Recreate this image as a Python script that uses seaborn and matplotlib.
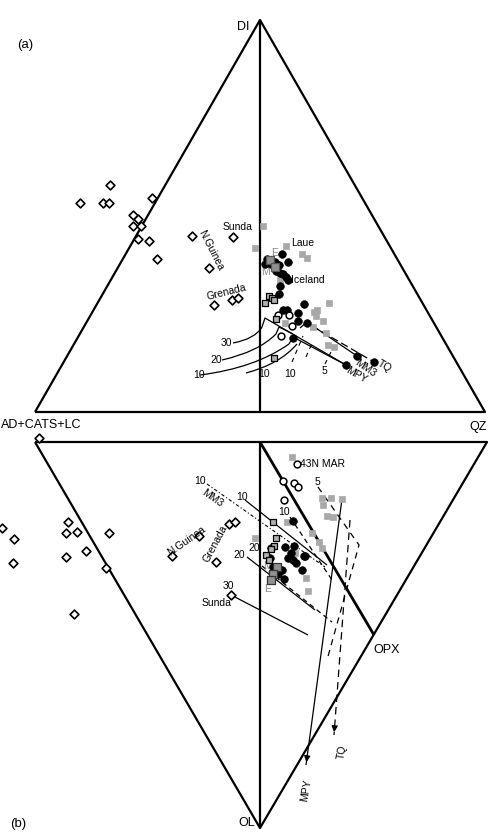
import numpy as np
import pandas as pd
import matplotlib
matplotlib.use("Agg")
import matplotlib.pyplot as plt
import seaborn as sns
from matplotlib.path import Path
from matplotlib.patches import PathPatch

sns.set_theme(style="white")
plt.rcParams['font.family'] = ['Liberation Sans', 'DejaVu Sans']

# ---------------- data (figure pixel coordinates of the projection) ----------------
# triangle frames
tri_top = [(35, 412), (260, 20), (485, 412), (35, 412)]
tri_top_mid = [(260, 20), (260, 412)]
tri_bot = [(35, 442), (487, 442), (260, 828), (35, 442)]
tri_bot_mid = [(260, 442), (260, 828)]
opx_line = [(260, 442), (374, 635)]

# --- top panel (a) ---
a_dia_x = [110, 80, 103, 109, 152, 133, 138, 133, 141, 138, 149, 157, 192, 209, 233, 214, 232, 238, 39]
a_dia_y = [185, 203, 203, 203, 198, 215, 219, 226, 226, 239, 241, 259, 236, 268, 237, 305, 300, 298, 438]

a_blk_x = [282, 288, 267, 265, 271, 275, 279, 276, 280, 283, 286, 288, 280, 279, 304, 283, 287, 298, 298, 307, 293, 357, 374, 346]
a_blk_y = [254, 262, 259, 264, 264, 262, 265, 271, 273, 274, 277, 280, 286, 294, 304, 310, 310, 313, 321, 323, 338, 356, 362, 365]

a_open_x = [278, 289, 292, 281]
a_open_y = [315, 315, 326, 336]

a_gry_x = [263, 255, 286, 302, 307, 329, 317, 314, 316, 323, 285, 313, 326, 328, 334, 280]
a_gry_y = [226, 248, 246, 254, 258, 303, 310, 312, 316, 321, 323, 327, 333, 345, 347, 280]

a_sq_x = [269, 272, 274, 265, 276, 274]
a_sq_y = [296, 298, 300, 303, 319, 358]
a_bigsq_x = [270, 275]
a_bigsq_y = [260, 267]

# --- bottom panel (b) ---
b_dia_x = [2, 14, 13, 68, 66, 77, 109, 86, 66, 106, 74, 199, 172, 229, 235, 216, 231]
b_dia_y = [528, 539, 563, 522, 533, 532, 533, 551, 557, 568, 614, 536, 556, 524, 522, 562, 595]

b_blk_x = [293, 285, 294, 304, 271, 270, 288, 296, 302, 282, 278, 284, 291, 293, 305, 273]
b_blk_y = [521, 547, 546, 556, 548, 558, 558, 563, 570, 570, 574, 579, 553, 560, 556, 567]

b_open_x = [297, 283, 294, 298, 284]
b_open_y = [464, 481, 483, 487, 500]

b_gry_x = [292, 322, 331, 323, 342, 327, 333, 287, 312, 319, 322, 255, 306, 308, 295]
b_gry_y = [457, 498, 498, 505, 499, 516, 517, 522, 533, 542, 548, 538, 578, 591, 553]

b_sq_x = [273, 276, 274, 271, 266, 269]
b_sq_y = [522, 538, 546, 549, 555, 560]
b_bigsq_x = [277, 273, 271]
b_bigsq_y = [567, 574, 580]

# --- lines of panel (a) ---
a_curve30 = [(233, 343), (255, 339), (262, 327)]
a_curve20 = [(222, 360), (258, 352), (276, 334)]
a_curve10 = [(200, 375), (255, 368), (289, 344)]
a_curve0 = [(246, 373), (280, 364), (297, 344)]
a_brk30 = [(262, 327), (265, 318), (346, 365)]
a_brk20 = [(276, 334), (279, 327), (293, 334)]
a_brk10 = [(289, 344), (293, 337), (346, 365)]
a_mm3 = [(300, 328), (307, 322), (357, 356)]
a_tq = [(312, 326), (374, 362)]
a_dash1 = [(292, 362), (303, 336)]
a_dash2 = [(306, 357), (313, 341)]
a_dash3 = [(325, 364), (331, 352)]

# --- lines of panel (b) ---
b_mm3 = [(207, 484), (325, 567)]
b_sol10 = [(245, 500), (327, 565)]
b_sol20 = [(247, 557), (315, 610)]
b_sol30 = [(233, 596), (308, 635)]
b_dash10 = [(290, 517), (332, 580)]
b_dash20 = [(262, 566), (332, 622)]
b_dash5 = [(318, 487), (359, 545), (327, 660)]
b_mpy = [(342, 499), (306, 765)]
b_tq = [(350, 520), (334, 735)]

# ---------------- figure ----------------
fig = plt.figure(figsize=(4.89, 8.34), dpi=100)
ax = fig.add_axes([0, 0, 1, 1])
ax.set_xlim(0, 489)
ax.set_ylim(834, 0)
ax.axis('off')


def pl(pts, **kw):
    p = np.array(pts, dtype=float)
    ax.plot(p[:, 0], p[:, 1], color='black', solid_capstyle='butt', **kw)


def curve(pts, **kw):
    verts = [tuple(v) for v in pts]
    path = Path(verts, [Path.MOVETO, Path.CURVE3, Path.CURVE3])
    ax.add_patch(PathPatch(path, fill=False, edgecolor='black', **kw))


# frames
pl(tri_top, lw=1.6)
pl(tri_top_mid, lw=1.6)
pl(tri_bot, lw=1.6)
pl(tri_bot_mid, lw=1.6)
pl(opx_line, lw=2.0)

# panel (a) lines
for c in (a_curve30, a_curve20, a_curve10, a_curve0):
    curve(c, lw=0.9)
for b in (a_brk30, a_brk20, a_brk10, a_mm3):
    pl(b, lw=0.9)
pl(a_tq, lw=0.9, ls=(0, (6, 3)))
for d in (a_dash1, a_dash2, a_dash3):
    pl(d, lw=0.8, ls=(0, (4, 4)))

# panel (b) lines
pl(b_mm3, lw=0.8, ls=(0, (3, 2, 1, 2)))
pl(b_sol10, lw=0.9)
pl(b_sol20, lw=0.9)
pl(b_sol30, lw=0.9)
pl(b_dash10, lw=0.9, ls=(0, (4, 3)))
pl(b_dash20, lw=0.9, ls=(0, (4, 3)))
pl(b_dash5, lw=0.9, ls=(0, (5, 4)))
pl(b_mpy, lw=0.9)
pl(b_tq, lw=0.9, ls=(0, (6, 4)))
for seg in (b_mpy, b_tq):
    (x0, y0), (x1, y1) = seg
    ax.annotate('', xy=(x1, y1), xytext=(x1 - (x1 - x0) * 0.05, y1 - (y1 - y0) * 0.05),
                arrowprops=dict(arrowstyle='-|>', color='black', lw=0.9, mutation_scale=9))

# points
def scat(xs, ys, marker, fc, ec, s, lw, z=3):
    sns.scatterplot(x=xs, y=ys, marker=marker, color=fc, edgecolor=ec, s=s,
                    linewidth=lw, ax=ax, zorder=z, legend=False)

scat(a_dia_x, a_dia_y, 'D', 'white', 'black', 20, 1.2)
scat(b_dia_x, b_dia_y, 'D', 'white', 'black', 20, 1.2)
scat(a_gry_x, a_gry_y, 's', '#a8a8a8', '#a8a8a8', 18, 0.5)
scat(b_gry_x, b_gry_y, 's', '#a8a8a8', '#a8a8a8', 18, 0.5)
scat(a_blk_x, a_blk_y, 'o', 'black', 'black', 30, 0.5, 4)
scat(b_blk_x, b_blk_y, 'o', 'black', 'black', 30, 0.5, 4)
scat(a_open_x, a_open_y, 'o', 'white', 'black', 24, 1.1, 5)
scat(b_open_x, b_open_y, 'o', 'white', 'black', 24, 1.1, 5)
scat(a_sq_x, a_sq_y, 's', '#b0b0b0', 'black', 14, 0.9, 5)
scat(b_sq_x, b_sq_y, 's', '#b0b0b0', 'black', 14, 0.9, 5)
scat(a_bigsq_x, a_bigsq_y, 's', '#909090', '#555555', 30, 0.9, 5)
scat(b_bigsq_x, b_bigsq_y, 's', '#909090', '#333333', 34, 0.9, 5)

# text
T = dict(color='black', ha='center', va='center')
fs_big = 9
fs_sm = 7.5
ax.text(25, 45, '(a)', fontsize=9.5, **T)
ax.text(18, 824, '(b)', fontsize=9.5, **T)
ax.text(243, 27, 'DI', fontsize=fs_big, **T)
ax.text(1, 425, 'AD+CATS+LC', fontsize=fs_big, color='black', ha='left', va='center')
ax.text(478, 427, 'QZ', fontsize=fs_big, **T)
ax.text(247, 823, 'OL', fontsize=fs_big, **T)
ax.text(387, 650, 'OPX', fontsize=fs_big, **T)

# panel (a) labels
ax.text(238, 227, 'Sunda', fontsize=fs_sm, **T)
ax.text(211, 250, 'N.Guinea', fontsize=fs_sm, rotation=-63, **T)
ax.text(226, 292, 'Grenada', fontsize=fs_sm, rotation=14, **T)
ax.text(303, 243, 'Laue', fontsize=fs_sm, **T)
ax.text(308, 280, 'Iceland', fontsize=fs_sm, **T)
ax.text(275, 253, 'E', fontsize=fs_sm, color='#888888', ha='center', va='center')
ax.text(265, 272, 'M', fontsize=fs_sm, color='#888888', ha='center', va='center')
ax.text(226, 343, '30', fontsize=fs_sm, **T)
ax.text(216, 360, '20', fontsize=fs_sm, **T)
ax.text(199, 375, '10', fontsize=fs_sm, **T)
ax.text(264, 374, '10', fontsize=fs_sm, **T)
ax.text(290, 374, '10', fontsize=fs_sm, **T)
ax.text(324, 371, '5', fontsize=fs_sm, **T)
ax.text(365, 368, 'MM3', fontsize=fs_sm, rotation=-35, **T)
ax.text(385, 366, 'TQ', fontsize=fs_sm, rotation=-30, **T)
ax.text(356, 375, 'MPY', fontsize=fs_sm, rotation=-30, **T)

# panel (b) labels
ax.text(322, 464, '43N MAR', fontsize=fs_sm, **T)
ax.text(200, 481, '10', fontsize=fs_sm, **T)
ax.text(212, 498, 'MM3', fontsize=fs_sm, rotation=-35, **T)
ax.text(242, 497, '10', fontsize=fs_sm, **T)
ax.text(284, 512, '10', fontsize=fs_sm, **T)
ax.text(317, 482, '5', fontsize=fs_sm, **T)
ax.text(186, 541, 'N.Guinea', fontsize=fs_sm, rotation=35, **T)
ax.text(215, 544, 'Grenada', fontsize=fs_sm, rotation=62, **T)
ax.text(254, 548, '20', fontsize=fs_sm, **T)
ax.text(239, 555, '20', fontsize=fs_sm, **T)
ax.text(228, 586, '30', fontsize=fs_sm, **T)
ax.text(217, 603, 'Sunda', fontsize=fs_sm, **T)
ax.text(267, 566, 'M', fontsize=fs_sm, color='#888888', ha='center', va='center')
ax.text(268, 589, 'E', fontsize=fs_sm, color='#888888', ha='center', va='center')
ax.text(306, 790, 'MPY', fontsize=fs_sm, rotation=80, **T)
ax.text(342, 752, 'TQ', fontsize=fs_sm, rotation=80, **T)

fig.savefig('out.png', dpi=100)
